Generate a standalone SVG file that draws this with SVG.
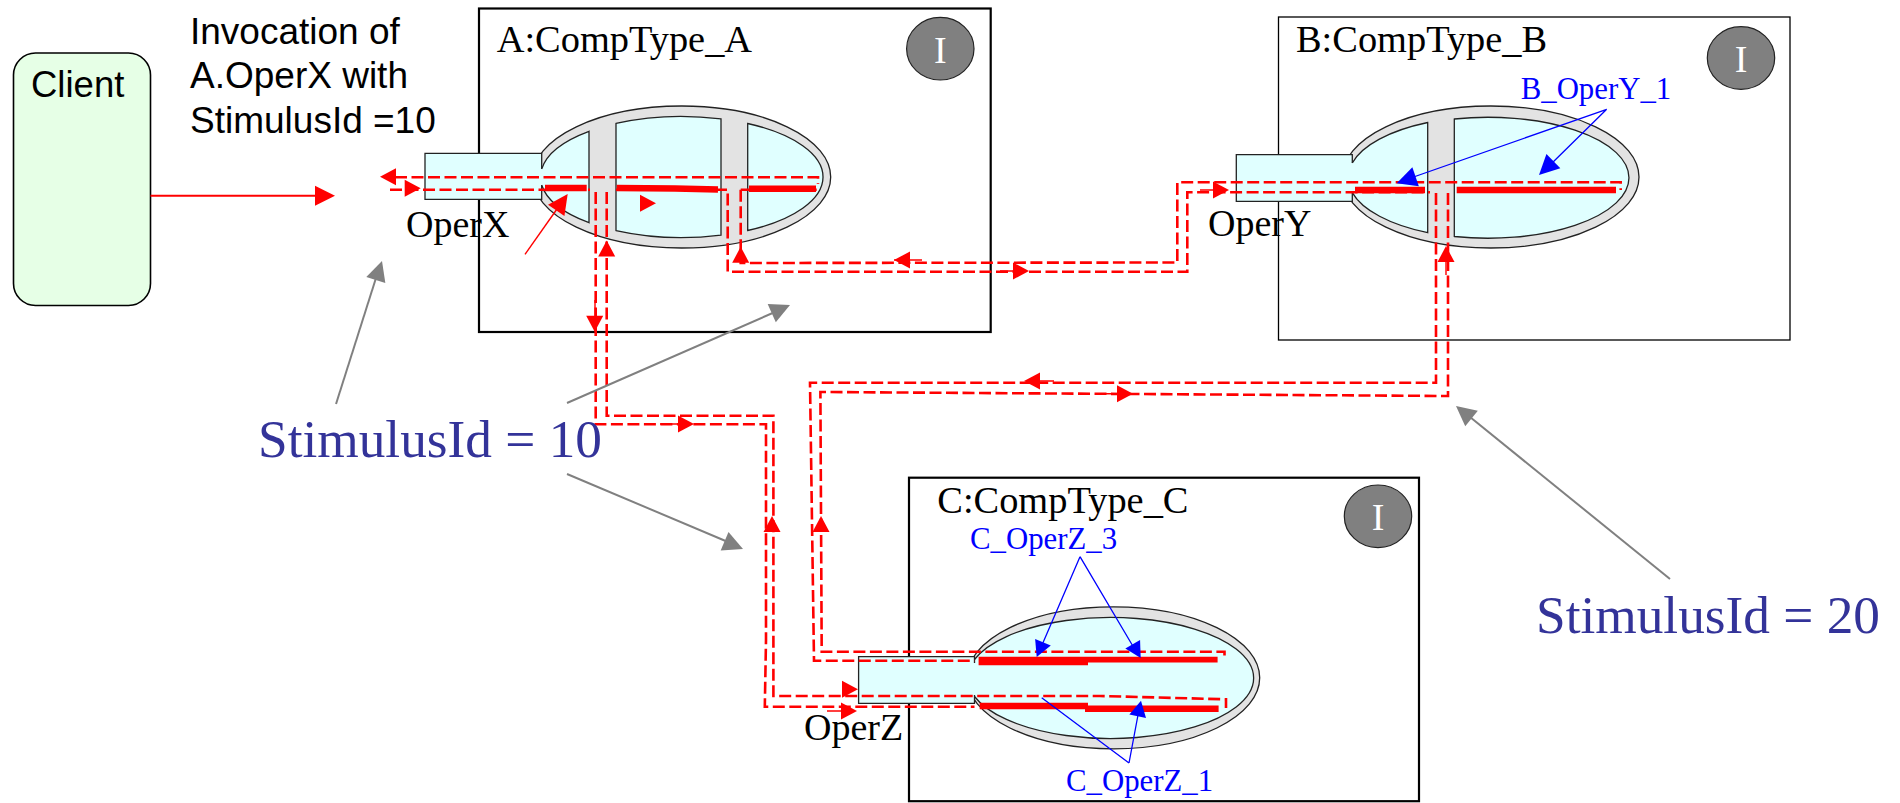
<svg xmlns="http://www.w3.org/2000/svg" width="1900" height="803" viewBox="0 0 1900 803">
<style>
text{font-family:"Liberation Serif","Times New Roman",serif}
.sans{font-family:"Liberation Sans",Arial,sans-serif;font-size:37px;fill:#000}
.name{font-size:38.4px;fill:#000}
.oper{font-size:38px;fill:#000}
.stim{font-size:53.3px;fill:#333399}
.blue{font-size:30.8px;fill:#0000ff}
.inst{font-size:38px;fill:#fff;text-anchor:middle}
.box{fill:#fff;stroke:#000;stroke-width:2.2}
.outer{fill:#e3e3e3;stroke:#222;stroke-width:1.3}
.inner{fill:#e0ffff;stroke:#222;stroke-width:1.3}
.port{fill:#e0ffff;stroke:none}
.edge{fill:none;stroke:#222;stroke-width:1.3}
.circ{fill:#808080;stroke:#222;stroke-width:1.2}
.dash{fill:none;stroke:#ff0000;stroke-width:2.6;stroke-dasharray:12 4.5}
.thick{fill:none;stroke:#ff0000;stroke-width:6.5}
.red{fill:none;stroke:#ff0000;stroke-width:1.4}
.grayl{fill:none;stroke:#808080;stroke-width:2}
.bluel{fill:none;stroke:#0000ff;stroke-width:1.3}
.r{fill:#ff0000}.g{fill:#808080}.b{fill:#0000ff}
</style>
<defs>
<path id="tri" d="M0,0L-16,-8.5L-16,8.5Z"/>
<path id="big" d="M0,0L-20,-10L-20,10Z"/>
<path id="gtri" d="M0,0L-20,-10L-20,10Z"/>
</defs>

<g id="client">
<rect x="13.5" y="53" width="137" height="252.5" rx="22" ry="22" fill="#e6ffe6" stroke="#000" stroke-width="1.6"/>
<text class="sans" x="31" y="96.7" style="font-size:36.5px">Client</text>
</g>
<g id="invocation-note">
<text class="sans" x="190" y="43.7">Invocation of</text>
<text class="sans" x="190" y="88.3">A.OperX with</text>
<text class="sans" x="190" y="132.7">StimulusId =10</text>
</g>

<g id="comp-a">
<rect class="box" x="479" y="8.5" width="511.7" height="323.5"/>
<text class="name" x="496.7" y="52.3">A:CompType_A</text>
<ellipse class="circ" cx="940.3" cy="48.7" rx="33.7" ry="31.3"/>
<text class="inst" x="940.3" y="62.7">I</text>
<ellipse class="outer" cx="681.7" cy="177" rx="149" ry="71"/>
<path class="port" d="M541.7,153.3H425V199.3H541.7Z"/>
<path class="edge" d="M541.7,169V153.3H425V199.3H541.7V185"/>
<path class="inner" d="M541.7,169A141.3,60.5 0 0 1 589,131.3V222.7A141.3,60.5 0 0 1 541.7,185"/>
<path class="port" d="M537,169.5H543V184.5H537Z"/>
<path class="inner" d="M616,123.4A141.3,60.5 0 0 1 721,118.9V235.1A141.3,60.5 0 0 1 616,230.6Z"/>
<path class="inner" d="M747.7,123.5A141.3,60.5 0 0 1 747.7,230.5Z"/>
<text class="oper" x="406" y="237.3">OperX</text>
</g>

<g id="comp-b">
<rect class="box" x="1278.5" y="17" width="511.5" height="323" style="stroke-width:1.3"/>
<text class="name" x="1296" y="52">B:CompType_B</text>
<ellipse class="circ" cx="1741" cy="58" rx="33.7" ry="31.3"/>
<text class="inst" x="1741" y="72">I</text>
<ellipse class="outer" cx="1490.7" cy="177" rx="148.3" ry="71"/>
<path class="port" d="M1352.3,154.7H1236.3V201.3H1352.3Z"/>
<path class="edge" d="M1352.3,163V154.7H1236.3V201.3H1352.3V192.6"/>
<path class="inner" d="M1352.3,163A141,60.5 0 0 1 1427.7,122.5V232.7A141,60.5 0 0 1 1352.3,192.6"/>
<path class="port" d="M1348,163.5H1354V192H1348Z"/>
<path class="inner" d="M1454.3,119A141,60.5 0 1 1 1454.3,236.5Z"/>
<text class="oper" x="1208" y="235.7">OperY</text>
<text class="blue" x="1520.7" y="99.3">B_OperY_1</text>
</g>

<g id="comp-c">
<rect class="box" x="909" y="477.7" width="510" height="323.5"/>
<text class="name" x="937.3" y="512.7">C:CompType_C</text>
<ellipse class="circ" cx="1378" cy="516.3" rx="33.7" ry="31.3"/>
<text class="inst" x="1378" y="530">I</text>
<ellipse class="outer" cx="1113.4" cy="677.8" rx="146.3" ry="71"/>
<path class="inner" d="M974.5,659.5A143,60.5 0 1 1 974.5,696.5"/>
<path class="port" d="M974.5,656.7H858.6V703.3H974.5Z"/>
<path class="edge" d="M974.5,663V656.7H858.6V703.3H974.5V695"/>
<path class="port" d="M970,663.5H979V694.5H970Z"/>
<text class="oper" x="804" y="740">OperZ</text>
<text class="blue" x="970" y="549">C_OperZ_3</text>
<text class="blue" x="1066" y="790.7">C_OperZ_1</text>
</g>

<g id="connectors">
<path class="thick" d="M545,188H586.7M616.7,188L675,188.5L718,189.5M749,188.7H816"/>
<path class="thick" d="M1355,190H1425M1456.7,190H1616"/>
<path class="thick" d="M978.6,661H1088" style="stroke-width:8.7"/>
<path class="thick" d="M1088,659.7H1217.6" style="stroke-width:5.7"/>
<path class="thick" d="M979.7,706H1088M1085,708.7H1218.6"/>

<path class="dash" d="M395,177.3H818V184"/>
<path class="dash" d="M390,189.7H590M595.7,192V424.3H766V640L764.8,706.7H974.5"/>
<path class="dash" d="M606.7,192V415.7H773.4V696H1100L1226,699.3V708"/>
<path class="dash" d="M616,189.7H727.7V271.7H1187.3V192.3H1430"/>
<path class="dash" d="M740.7,189.7V263L1177.3,262.5V182.3H1620.7V190"/>
<path class="dash" d="M740.7,189.7H816.7"/>
<path class="dash" d="M1436,193V382.7H810L814,660.7H974.5"/>
<path class="dash" d="M1448,193V396L820.4,392L821.7,651.7H1224.5V658"/>

<use href="#tri" class="r" transform="translate(380,176.7) rotate(180)"/>
<use href="#tri" class="r" transform="translate(420.7,188.3)"/>
<use href="#tri" class="r" transform="translate(656,203.3)"/>
<use href="#tri" class="r" transform="translate(606.7,240.5) rotate(-90)"/>
<use href="#tri" class="r" transform="translate(740.7,246.7) rotate(-90)"/>
<use href="#tri" class="r" transform="translate(594.7,331.7) rotate(90)"/>
<use href="#tri" class="r" transform="translate(694,424)"/>
<use href="#tri" class="r" transform="translate(894,260) rotate(180)"/>
<use href="#tri" class="r" transform="translate(1029,271)"/>
<use href="#tri" class="r" transform="translate(1229,190)"/>
<use href="#tri" class="r" transform="translate(1446,246) rotate(-90)"/>
<use href="#tri" class="r" transform="translate(1024,381) rotate(180)"/>
<use href="#tri" class="r" transform="translate(1133,393.7)"/>
<use href="#tri" class="r" transform="translate(772,516) rotate(-90)"/>
<use href="#tri" class="r" transform="translate(821,516) rotate(-90)"/>
<use href="#tri" class="r" transform="translate(858,689.3)"/>
<use href="#tri" class="r" transform="translate(857,711)"/>

<path class="red" d="M894,260H922M1000,271H1015M1038,381H1054M1103,393.7H1116M827,711H843M595,300V316M740.7,259V264M1446,261V275M1200,190H1214M660,424H678"/>
<path class="red" d="M150.5,195.7H316" style="stroke-width:2"/>
<use href="#big" class="r" transform="translate(335,195.7)"/>
<path class="red" d="M525,254.3L557,209"/>
<use href="#big" class="r" transform="translate(567.7,194) rotate(-55)"/>

<path class="grayl" d="M336,404L376,278"/>
<use href="#gtri" class="g" transform="translate(382,261) rotate(-72)"/>
<path class="grayl" d="M567,403L775,312"/>
<use href="#gtri" class="g" transform="translate(790,305) rotate(-24)"/>
<path class="grayl" d="M567,474L728,542"/>
<use href="#gtri" class="g" transform="translate(743,549) rotate(23)"/>
<path class="grayl" d="M1670,579L1470,417"/>
<use href="#gtri" class="g" transform="translate(1456,406) rotate(219)"/>

<path class="bluel" d="M1606.7,109.3L1405,180M1606.7,109.3L1548,167"/>
<use href="#big" class="b" transform="translate(1396.7,183.3) rotate(161)"/>
<use href="#big" class="b" transform="translate(1539,175) rotate(136)"/>
<path class="bluel" d="M1080,556.7L1042,645M1080,556.7L1134,648"/>
<use href="#tri" class="b" transform="translate(1036.7,657) rotate(113)"/>
<use href="#tri" class="b" transform="translate(1140.7,658) rotate(60)"/>
<path class="bluel" d="M1129,763L1041.7,697.7M1129,763L1138,715"/>
<use href="#tri" class="b" transform="translate(1141,700.7) rotate(-78)"/>
</g>

<g id="stimulus-labels">
<text class="stim" x="258" y="457">StimulusId = 10</text>
<text class="stim" x="1536" y="632.5">StimulusId = 20</text>
</g>
</svg>
